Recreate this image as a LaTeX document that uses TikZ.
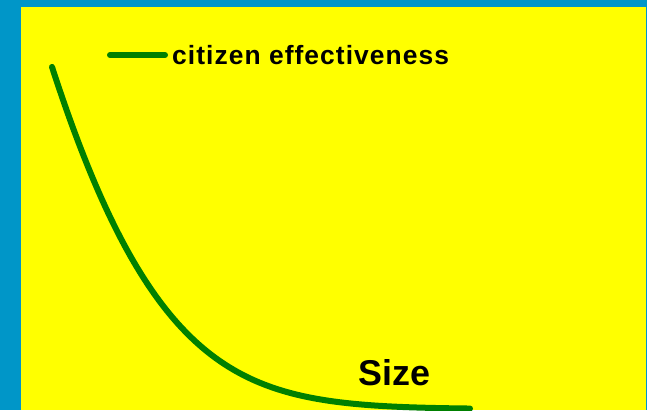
\documentclass[tikz,border=0pt]{standalone}
\usepackage{fontspec}
\setmainfont{Liberation Sans}
\newfontfamily\legendfont[LetterSpace=4]{Liberation Sans}
\definecolor{bgblue}{RGB}{0,150,200}
\definecolor{bgyellow}{RGB}{255,255,0}
\definecolor{curvegreen}{RGB}{0,128,0}
\tikzset{
  curveline/.style={draw=curvegreen, line width=6bp, line cap=round, line join=round},
  lbl/.style={inner sep=0pt, anchor=base west, text=black}
}
\begin{document}
\begin{tikzpicture}[x=1bp,y=-1bp]
\useasboundingbox (0,0) rectangle (647,410);
\fill[bgblue] (0,0) rectangle (647,410);
\fill[bgyellow] (21,7) rectangle (646,410);
\coordinate (l1) at (110,55);
\coordinate (l2) at (165,55);
\draw[curveline] (l1) -- (l2);
\node[lbl, font=\legendfont\bfseries\fontsize{26.5}{26.5}\selectfont] (leg) at (172,64) {citizen effectiveness};
\node[lbl, font=\bfseries\fontsize{36}{36}\selectfont] (size) at (358,385) {Size};
\draw[curveline] plot[domain=0:418, samples=140, smooth] ({52+\x},{409-exp(5.835-0.009*\x-0.161*(\x/100)*(\x/100))});
\end{tikzpicture}
\end{document}
